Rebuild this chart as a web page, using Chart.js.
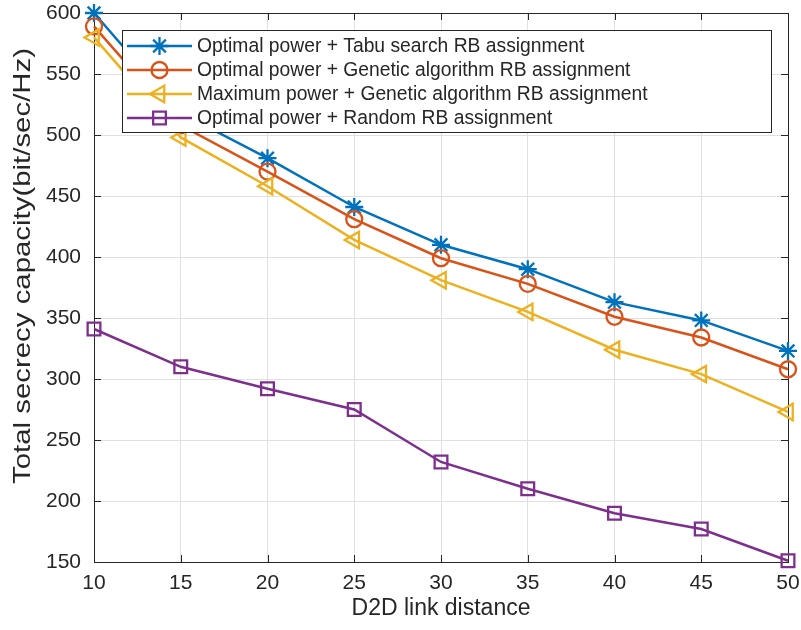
<!DOCTYPE html>
<html>
<head>
<meta charset="utf-8">
<script src="https://cdn.jsdelivr.net/npm/chart.js@4.4.1/dist/chart.umd.min.js"></script>
<style>
  html, body { margin: 0; padding: 0; background: #fff; }
  #secrecy-chart { display: block; }
</style>
</head>
<body>
<canvas id="secrecy-chart" width="801" height="630"></canvas>
<script>
const distances = [10, 15, 20, 25, 30, 35, 40, 45, 50];
const optTabu = [600, 518, 481, 441, 410, 390, 363, 348, 323];
const optGenetic = [589, 508, 470, 431, 399, 378, 351, 334, 308];
const maxGenetic = [580, 498, 458, 414, 381, 355, 324, 304, 273];
const optRandom = [341, 310, 292, 275, 232, 210, 190, 177, 151];

const seriesNames = [
    'Optimal power + Tabu search RB assignment',
    'Optimal power + Genetic algorithm RB assignment',
    'Maximum power + Genetic algorithm RB assignment',
    'Optimal power + Random RB assignment',
];
const xTitle = 'D2D link distance';
const yTitle = 'Total secrecy capacity(bit/sec/Hz)';

const textColor = '#262626';
const fontFamily = 'Liberation Sans, Arial, Helvetica, sans-serif';

function toPoints(values) {
    return values.map((v, i) => ({x: distances[i], y: v}));
}

// axes box with inward ticks on all four sides, like the MATLAB default
const boxPlugin = {
    id: 'boxAxes',
    beforeDatasetsDraw(chart) {
        const {ctx, chartArea: a, scales: {x, y}} = chart;
        const tick = 7;
        ctx.save();
        ctx.strokeStyle = textColor;
        ctx.lineWidth = 1;
        ctx.beginPath();
        x.ticks.forEach(t => {
            const px = Math.round(x.getPixelForValue(t.value)) + 0.5;
            ctx.moveTo(px, a.bottom); ctx.lineTo(px, a.bottom - tick);
            ctx.moveTo(px, a.top); ctx.lineTo(px, a.top + tick);
        });
        y.ticks.forEach(t => {
            const py = Math.round(y.getPixelForValue(t.value)) + 0.5;
            ctx.moveTo(a.left, py); ctx.lineTo(a.left + tick, py);
            ctx.moveTo(a.right, py); ctx.lineTo(a.right - tick, py);
        });
        ctx.stroke();
        ctx.strokeRect(Math.round(a.left) + 0.5, Math.round(a.top) + 0.5,
            Math.round(a.right - a.left), Math.round(a.bottom - a.top));

        // vertical axis title, a little stretched along its length
        ctx.font = '24px ' + fontFamily;
        ctx.fillStyle = textColor;
        ctx.textAlign = 'center';
        ctx.textBaseline = 'middle';
        const w = ctx.measureText(yTitle).width;
        ctx.translate(23, 266);
        ctx.rotate(-Math.PI / 2);
        ctx.scale(436 / w, 1);
        ctx.fillText(yTitle, 0, 0);
        ctx.restore();
    }
};

// legend box drawn inside the plot area
const legendPlugin = {
    id: 'insideLegend',
    afterDraw(chart) {
        const ctx = chart.ctx;
        const box = {left: 122, top: 30, right: 771, bottom: 132};
        const rowY = [46, 70, 94, 118];
        ctx.save();
        ctx.fillStyle = '#fff';
        ctx.fillRect(box.left, box.top, box.right - box.left, box.bottom - box.top);
        ctx.strokeStyle = textColor;
        ctx.lineWidth = 1;
        ctx.strokeRect(box.left + 0.5, box.top + 0.5, box.right - box.left, box.bottom - box.top);
        chart.data.datasets.forEach((ds, i) => {
            const yy = rowY[i];
            ctx.strokeStyle = ds.borderColor;
            ctx.lineWidth = ds.borderWidth;
            ctx.beginPath();
            ctx.moveTo(127, yy);
            ctx.lineTo(192, yy);
            ctx.stroke();
            ctx.fillStyle = 'rgba(0,0,0,0)';
            ctx.lineWidth = ds.pointBorderWidth;
            Chart.helpers.drawPoint(ctx, {
                pointStyle: ds.pointStyle,
                rotation: ds.pointRotation || 0,
                radius: ds.pointRadius,
                borderWidth: ds.pointBorderWidth,
            }, 159.5, yy);
            ctx.fillStyle = textColor;
            ctx.font = '19.3px ' + fontFamily;
            ctx.textBaseline = 'middle';
            ctx.textAlign = 'left';
            ctx.fillText(ds.label, 197, yy + 1);
        });
        ctx.restore();
    }
};

const lineStyle = {
    borderWidth: 2.5,
    pointBorderWidth: 2.3,
    pointBackgroundColor: 'rgba(0,0,0,0)',
    tension: 0,
    clip: false,
};

new Chart(document.getElementById('secrecy-chart'), {
    type: 'line',
    data: {
        datasets: [
            Object.assign({
                label: seriesNames[0],
                data: toPoints(optTabu),
                borderColor: '#0072BD',
                pointBorderColor: '#0072BD',
                pointStyle: 'star',
                pointRadius: 9,
                order: 4,
            }, lineStyle),
            Object.assign({
                label: seriesNames[1],
                data: toPoints(optGenetic),
                borderColor: '#D95319',
                pointBorderColor: '#D95319',
                pointStyle: 'circle',
                pointRadius: 8,
                order: 3,
            }, lineStyle),
            Object.assign({
                label: seriesNames[2],
                data: toPoints(maxGenetic),
                borderColor: '#EDB120',
                pointBorderColor: '#EDB120',
                pointStyle: 'triangle',
                pointRotation: -90,
                pointRadius: 9.5,
                order: 2,
            }, lineStyle),
            Object.assign({
                label: seriesNames[3],
                data: toPoints(optRandom),
                borderColor: '#7E2F8E',
                pointBorderColor: '#7E2F8E',
                pointStyle: 'rect',
                pointRadius: 9,
                order: 1,
            }, lineStyle),
        ]
    },
    options: {
        responsive: false,
        animation: false,
        events: [],
        layout: {
            padding: {top: 13, right: 13, left: 0, bottom: 0}
        },
        scales: {
            x: {
                type: 'linear',
                min: 10,
                max: 50,
                afterFit: scale => {
                    scale.height = 68;
                    scale.paddingLeft = 0;
                    scale.paddingRight = 0;
                },
                border: {display: false},
                grid: {color: '#e0e0e0', drawTicks: false},
                ticks: {
                    stepSize: 5,
                    autoSkip: false,
                    maxRotation: 0,
                    padding: 9,
                    color: textColor,
                    font: {family: fontFamily, size: 21},
                },
                title: {
                    display: true,
                    text: xTitle,
                    color: textColor,
                    font: {family: fontFamily, size: 23},
                    padding: {top: 0, bottom: 8},
                },
            },
            y: {
                min: 150,
                max: 600,
                afterFit: scale => {
                    scale.width = 94;
                    scale.paddingTop = 0;
                    scale.paddingBottom = 0;
                },
                border: {display: false},
                grid: {color: '#e0e0e0', drawTicks: false},
                ticks: {
                    stepSize: 50,
                    padding: 13,
                    color: textColor,
                    font: {family: fontFamily, size: 21},
                },
            },
        },
        plugins: {
            legend: {display: false},
            tooltip: {enabled: false},
        }
    },
    plugins: [boxPlugin, legendPlugin],
});
</script>
</body>
</html>
